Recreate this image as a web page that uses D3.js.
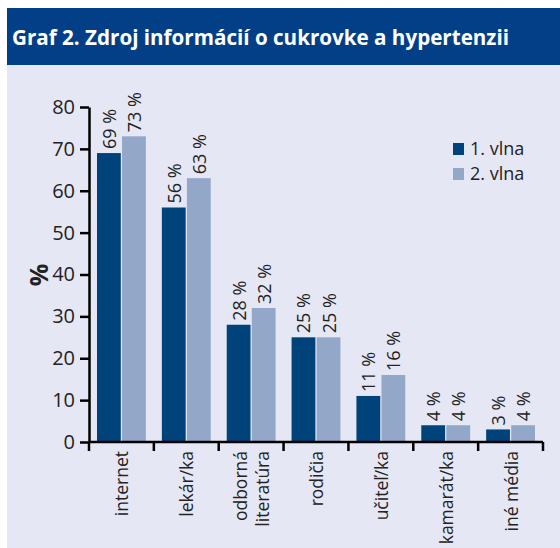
<!DOCTYPE html>
<html>
<head>
<meta charset="utf-8">
<script src="https://cdn.jsdelivr.net/npm/d3@7"></script>
<style>
  body { margin: 0; background: #fff; }
  text { font-family: "Open Sans", "DejaVu Sans", sans-serif; }
</style>
</head>
<body>
<div id="chart"></div>
<script>
const categories = ["internet", "lekár/ka", "odborná|literatúra", "rodičia", "učiteľ/ka", "kamarát/ka", "iné média"];
const seriesNames = ["1. vlna", "2. vlna"];
const wave1 = [69, 56, 28, 25, 11, 4, 3];
const wave2 = [73, 63, 32, 25, 16, 4, 4];
const yTicks = [0, 10, 20, 30, 40, 50, 60, 70, 80];
const colors = ["#00427a", "#93a7c8"];

const W = 560, H = 548;
const margin = { top: 107, right: 17, bottom: 106, left: 89 },
    width = W - margin.left - margin.right,
    height = H - margin.top - margin.bottom;

const svg = d3.select("#chart")
    .append("svg")
    .attr("width", W)
    .attr("height", H);

// panel background + title bar
svg.append("rect").attr("x", 7).attr("y", 8).attr("width", W - 7).attr("height", H - 8).attr("fill", "#e6e7f4");
svg.append("rect").attr("x", 7).attr("y", 8).attr("width", W - 7).attr("height", 57).attr("fill", "#033f87");
svg.append("text")
    .attr("x", 12).attr("y", 45)
    .attr("fill", "#fff")
    .attr("font-size", 22)
    .attr("font-weight", "bold")
    .attr("textLength", 497)
    .attr("lengthAdjust", "spacingAndGlyphs")
    .text("Graf 2. Zdroj informácií o cukrovke a hypertenzii");

const g = svg.append("g")
    .attr("transform", "translate(" + margin.left + "," + margin.top + ")");

const x = d3.scaleBand().domain(categories).range([0, width]).paddingInner(0).paddingOuter(0);
const xs = d3.scaleBand().domain(seriesNames).range([8, x.bandwidth() - 8]).paddingInner(0.05);
const y = d3.scaleLinear().domain([0, 80]).range([height, 0]);

const data = categories.map(function(c, i) {
    return { cat: c, vals: [wave1[i], wave2[i]] };
});

const groups = g.selectAll(".grp")
    .data(data)
    .enter()
    .append("g")
    .attr("transform", function(d) { return "translate(" + x(d.cat) + ",0)"; });

groups.selectAll("rect")
    .data(function(d) { return d.vals.map(function(v, j) { return { s: seriesNames[j], v: v, j: j }; }); })
    .enter()
    .append("rect")
    .attr("x", function(d) { return xs(d.s); })
    .attr("y", function(d) { return y(d.v); })
    .attr("width", xs.bandwidth())
    .attr("height", function(d) { return height - y(d.v); })
    .attr("fill", function(d) { return colors[d.j]; });

groups.selectAll(".lbl")
    .data(function(d) { return d.vals.map(function(v, j) { return { s: seriesNames[j], v: v }; }); })
    .enter()
    .append("text")
    .attr("class", "lbl")
    .attr("transform", function(d) {
        return "translate(" + (xs(d.s) + xs.bandwidth() / 2 + 7) + "," + (y(d.v) - 4) + ") rotate(-90)";
    })
    .attr("font-size", 18)
    .attr("fill", "#222")
    .text(function(d) { return d.v + " %"; });

// y axis
const yAxis = g.append("g")
    .call(d3.axisLeft(y).tickValues(yTicks).tickSize(9).tickSizeOuter(0).tickPadding(5));
yAxis.select(".domain").attr("stroke", "#000").attr("stroke-width", 2.5);
yAxis.selectAll(".tick line").attr("stroke", "#000").attr("stroke-width", 2.5);
yAxis.selectAll(".tick text").attr("font-size", 20).attr("fill", "#222")
    .style("font-family", "'Open Sans', sans-serif");

// x axis with ticks at band boundaries
const xAxisG = g.append("g").attr("transform", "translate(0," + height + ")");
xAxisG.append("line").attr("x1", 0).attr("x2", width).attr("stroke", "#000").attr("stroke-width", 2.5);
const bounds = categories.map(function(c) { return x(c); }).concat([width]);
xAxisG.selectAll(".xt")
    .data(bounds)
    .enter()
    .append("line")
    .attr("x1", function(d) { return d; })
    .attr("x2", function(d) { return d; })
    .attr("y1", 0).attr("y2", 9)
    .attr("stroke", "#000").attr("stroke-width", 2.5);

const xl = xAxisG.selectAll(".xl")
    .data(categories)
    .enter()
    .append("text")
    .attr("transform", function(d) {
        const lines = d.split("|").length;
        return "translate(" + (x(d) + x.bandwidth() / 2 + 7 - (lines - 1) * 11) + ",9) rotate(-90)";
    })
    .attr("text-anchor", "end")
    .attr("font-size", 17.5)
    .attr("fill", "#222");
xl.selectAll("tspan")
    .data(function(d) { return d.split("|"); })
    .enter()
    .append("tspan")
    .attr("x", 0)
    .attr("dy", function(d, i) { return i === 0 ? 0 : 22; })
    .text(function(d) { return d; });

// y title
svg.append("text")
    .attr("transform", "translate(48,275) rotate(-90)")
    .attr("text-anchor", "middle")
    .attr("font-size", 25)
    .attr("font-weight", "bold")
    .attr("fill", "#222")
    .text("%");

// legend
const legend = svg.append("g").attr("transform", "translate(453,143)");
const li = legend.selectAll("g")
    .data(seriesNames)
    .enter()
    .append("g")
    .attr("transform", function(d, i) { return "translate(0," + i * 25 + ")"; });
li.append("rect").attr("width", 11).attr("height", 12).attr("fill", function(d, i) { return colors[i]; });
li.append("text").attr("x", 17).attr("y", 12).attr("font-size", 18).attr("fill", "#222")
    .text(function(d) { return d; });
</script>
</body>
</html>
